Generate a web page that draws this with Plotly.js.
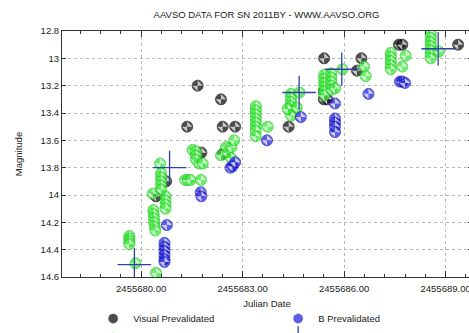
<!DOCTYPE html>
<html>
<head>
<meta charset="utf-8">
<script src="https://cdn.plot.ly/plotly-3.0.1.min.js"></script>
<style>
html,body{margin:0;padding:0;overflow:hidden;background:#fff;}
#chart{width:476px;height:370px;}
</style>
</head>
<body>
<div id="chart"></div>
<script>
// ---- data (Julian Date, magnitude) ----
const visJD  = [2455681.36,2455681.67,2455682.36,2455682.41,2455682.78,2455681.78,2455682.41,2455680.74,2455680.44,2455684.36,2455685.41,2455685.40,2455685.40,2455685.50,2455686.38,2455686.51,2455687.62,2455687.72,2455689.37];
const visMag = [13.50,13.20,13.30,13.50,13.50,13.69,13.70,13.90,14.01,13.50,13.00,13.24,13.30,13.30,13.09,13.00,12.90,12.90,12.90];

const vJD  = [2455679.65,2455679.65,2455679.65,2455679.65,2455679.83,2455680.44,
              2455680.36,2455680.37,2455680.38,2455680.39,2455680.40,2455680.42,
              2455680.72,2455680.72,2455680.72,2455680.72,2455680.34,2455680.56,
              2455680.59,2455680.59,2455680.59,2455680.59,2455680.59,
              2455681.30,2455681.38,2455681.46,2455681.77,
              2455681.52,2455681.62,2455681.62,2455681.62,2455681.72,2455681.82,
              2455682.36,2455682.51,2455682.55,2455682.67,2455682.75,2455682.66,
              2455683.39,2455683.39,2455683.39,2455683.39,2455683.39,2455683.39,2455683.39,2455683.39,
              2455683.74,
              2455684.43,2455684.43,2455684.43,2455684.43,2455684.43,2455684.43,2455684.33,2455684.60,2455684.68,
              2455685.41,2455685.41,2455685.41,2455685.41,2455685.41,2455685.41,
              2455685.62,2455685.62,2455685.62,2455685.62,2455685.62,2455685.73,
              2455685.95,2455686.59,2455686.64,
              2455687.38,2455687.38,2455687.38,2455687.38,2455687.38,2455687.82,2455687.72,
              2455688.56,2455688.56,2455688.56,2455688.56,2455688.56,2455688.56,2455688.56,2455688.80];
const vMag = [14.30,14.32,14.34,14.36,14.50,14.57,
              14.11,14.14,14.17,14.20,14.23,14.26,
              14.01,14.04,14.07,14.10,13.99,13.77,
              13.84,13.87,13.90,13.93,13.96,
              13.89,13.89,13.89,13.89,
              13.67,13.68,13.71,13.74,13.77,13.77,
              13.71,13.65,13.69,13.65,13.60,13.73,
              13.35,13.38,13.41,13.44,13.47,13.50,13.53,13.57,
              13.50,
              13.26,13.29,13.32,13.35,13.38,13.42,13.37,13.36,13.25,
              13.12,13.15,13.18,13.21,13.24,13.27,
              13.11,13.14,13.17,13.20,13.23,13.22,
              13.08,13.06,13.13,
              12.96,12.99,13.02,13.05,13.08,12.98,13.06,
              12.82,12.85,12.88,12.91,12.94,12.97,13.00,12.95];

const bJD  = [2455683.72,2455684.72,2455685.73,2455685.73,2455685.73,2455685.73,2455685.73,2455686.72,
              2455687.65,2455687.72,2455687.80,2455681.76,2455681.78,2455682.64,2455682.70,2455682.78,
              2455680.76,2455680.69,2455680.69,2455680.69,2455680.69,2455680.69,2455680.69];
const bMag = [13.60,13.43,13.33,13.44,13.47,13.50,13.54,13.26,
              13.17,13.17,13.18,13.98,14.01,13.80,13.79,13.76,
              14.22,14.35,14.38,14.41,14.44,14.47,14.49];

const naoJD  = [2455679.80,2455680.84,2455684.67,2455685.93,2455688.78];
const naoMag = [14.51,13.80,13.25,13.08,12.93];

const seriesNames = ["Visual Prevalidated","V Prevalidated","B Prevalidated","Obs by NAO"];

// ---- build a trace: each observation = coloured circle followed by its white quadrant mark ----
function patterned(xs, ys, name, fill, edge, rank){
  const x=[], y=[], sym=[], col=[], size=[], lw=[], ang=[];
  for (let i=0;i<xs.length;i++){
    x.push(xs[i],xs[i]); y.push(ys[i],ys[i]);
    sym.push('circle','bowtie'); col.push(fill,'#ffffff');
    size.push(11,7.4); lw.push(1,0); ang.push(0,-45);
  }
  return {type:'scatter', mode:'markers', name:name, x:x, y:y, legendrank:rank,
    hoverinfo:'skip',
    marker:{symbol:sym, color:col, size:size, angle:ang, line:{color:edge, width:lw}}};
}

const traces = [
  patterned(visJD, visMag, seriesNames[0], '#000000', '#000000', 1),
  patterned(vJD, vMag, seriesNames[1], '#2ee82e', '#22c422', 3),
  patterned(bJD, bMag, seriesNames[2], '#1a1adc', '#1010b0', 2),
  {type:'scatter', mode:'markers', name:seriesNames[3], x:naoJD, y:naoMag, legendrank:4,
   hoverinfo:'skip',
   marker:{symbol:'cross-thin-open', size:24, color:'#3040a8', line:{color:'#3040a8', width:1.3}}}
];

const fnt = {family:'"Liberation Sans", Arial, sans-serif', size:9.5, color:'#222'};
const H = 370;

const layout = {
  width:476, height:H,
  margin:{l:62, r:4, t:31, b:H-277},
  paper_bgcolor:'#fff', plot_bgcolor:'#fff',
  font:fnt,
  showlegend:true,
  title:{text:'AAVSO DATA FOR SN 2011BY - WWW.AAVSO.ORG', font:{family:fnt.family,size:9.5,color:'#222'},
         x:0.56, xanchor:'center', y:1-15/H, yanchor:'middle', yref:'container'},
  xaxis:{
    range:[2455677.66, 2455689.78], tick0:2455680, dtick:3, tickformat:'.2f',
    ticks:'inside', ticklen:6, tickcolor:'#333', tickwidth:1, ticklabelstandoff:3,
    showline:true, linecolor:'#333', linewidth:1, mirror:'ticks',
    showgrid:true, gridcolor:'#b8b8b8', griddash:'dot', gridwidth:1,
    zeroline:false, tickfont:fnt,
    minor:{dtick:0.6, tick0:2455680, ticks:'inside', ticklen:3, tickcolor:'#333', showgrid:false},
    title:{text:'Julian Date', font:fnt, standoff:6}
  },
  yaxis:{
    range:[14.6, 12.8], tick0:12.8, dtick:0.2,
    ticks:'inside', ticklen:4, tickcolor:'#333',
    showline:true, linecolor:'#333', linewidth:1, mirror:'ticks',
    showgrid:true, gridcolor:'#b8b8b8', griddash:'dot', gridwidth:1,
    zeroline:false, tickfont:fnt,
    title:{text:'Magnitude', font:fnt, standoff:16}
  },
  legend:{orientation:'h', x:0.076, xanchor:'left', y:-0.11, yanchor:'top',
    entrywidth:140, font:fnt, bgcolor:'rgba(0,0,0,0)'}
};

Plotly.newPlot('chart', traces, layout, {staticPlot:true, displayModeBar:false});
</script>
</body>
</html>
